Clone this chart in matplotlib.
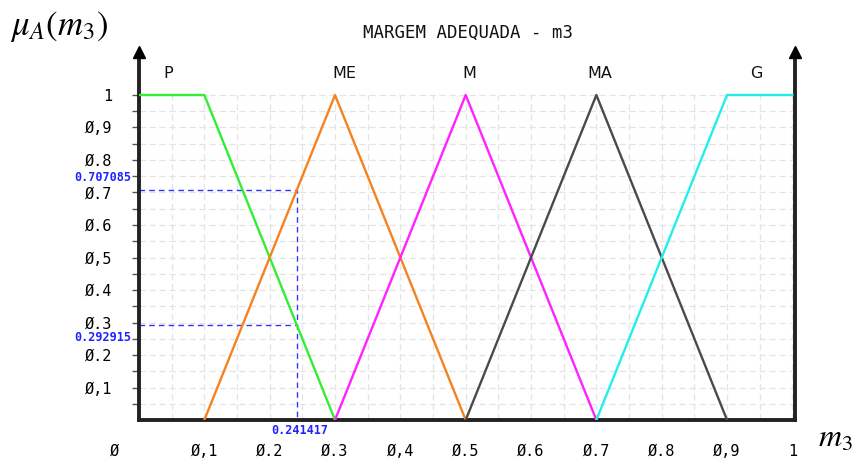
import numpy as np
import matplotlib
matplotlib.use("Agg")
import matplotlib.pyplot as plt
import matplotlib.transforms as mtransforms

plt.rcParams['mathtext.fontset'] = 'stix'

# membership functions (breakpoints)
sets = ['P', 'ME', 'M', 'MA', 'G']
set_x = [[0, 0.1, 0.3], [0.1, 0.3, 0.5], [0.3, 0.5, 0.7], [0.5, 0.7, 0.9], [0.7, 0.9, 1.0]]
set_y = [[1, 1, 0], [0, 1, 0], [0, 1, 0], [0, 1, 0], [0, 1, 1]]
set_colors = ['#33ee33', '#f58220', '#ff22ff', '#4a4a4a', '#22eeee']
label_x = [0.045, 0.315, 0.505, 0.705, 0.945]

x_input = 0.241417
mu_me = 0.707085
mu_p = 0.292915

xtick_vals = [0, 0.1, 0.2, 0.3, 0.4, 0.5, 0.6, 0.7, 0.8, 0.9, 1.0]
xtick_lbls = ['Ø', 'Ø,1', 'Ø.2', 'Ø.3', 'Ø,4', 'Ø.5', 'Ø.6', 'Ø.7', 'Ø.8', 'Ø,9', '1']
ytick_vals = [0.1, 0.2, 0.3, 0.4, 0.5, 0.6, 0.7, 0.8, 0.9, 1.0]
ytick_lbls = ['Ø,1', 'Ø.2', 'Ø.3', 'Ø.4', 'Ø,5', 'Ø.6', 'Ø.7', 'Ø.8', 'Ø,9', '1']

fig = plt.figure(figsize=(8.54, 4.63), dpi=100)
ax = fig.add_axes([139 / 854, 43 / 463, 656 / 854, 368 / 463])
xmax = 1.004
ymax = 368 / 325
ax.set_xlim(0, xmax)
ax.set_ylim(0, ymax)

# grid (only inside unit square)
g = np.arange(0.05, 1.0001, 0.05)
ax.hlines(g, 0, 1, colors='#e4e4e4', linestyles=(0, (5, 3)), lw=0.9, zorder=0)
ax.vlines(g, 0, 1, colors='#e4e4e4', linestyles=(0, (5, 3)), lw=0.9, zorder=0)

for name, xs, ys, c, lx in zip(sets, set_x, set_y, set_colors, label_x):
    ax.plot(xs, ys, color=c, lw=1.7, zorder=3)
    ax.text(lx, 1.065, name, ha='center', va='center', fontsize=11.5,
            family='DejaVu Sans', color='#111111')

# blue helper lines
blue_font = dict(fontsize=8.5, color='#2222ff', family='DejaVu Sans Mono', fontweight='bold')
ax.plot([0, x_input, x_input], [mu_me, mu_me, 0], color='#3333ff', lw=1, ls=(0, (4, 3)), zorder=2)
ax.plot([0, x_input], [mu_p, mu_p], color='#3333ff', lw=1, ls=(0, (4, 3)), zorder=2)
ax.text(-0.012, mu_me + 0.02, f'{mu_me:.6f}', ha='right', va='bottom', **blue_font)
ax.text(-0.012, mu_p - 0.02, f'{mu_p:.6f}', ha='right', va='top', **blue_font)
ax.text(x_input + 0.004, -0.012, f'{x_input:.6f}', ha='center', va='top', **blue_font)

# axes frame
ax.spines['top'].set_visible(False)
for s in ['left', 'right', 'bottom']:
    ax.spines[s].set_linewidth(2.8)
    ax.spines[s].set_color('#222222')
ax.plot([0, xmax], [ymax, ymax], ls='', marker='^', ms=9, color='black', clip_on=False, zorder=5)

ax.set_xticks(xtick_vals)
ax.set_xticklabels(xtick_lbls, fontsize=11, family='DejaVu Sans Mono')
ax.tick_params(axis='x', length=0, pad=17)
lbl0 = ax.get_xticklabels()[0]
lbl0.set_transform(lbl0.get_transform() + mtransforms.ScaledTranslation(-0.24, 0, fig.dpi_scale_trans))

ax.set_yticks(ytick_vals)
ax.set_yticklabels(ytick_lbls, fontsize=11, family='DejaVu Sans Mono')
ax.set_yticks(np.arange(0.05, 1.0001, 0.1), minor=True)
ax.tick_params(axis='y', which='both', length=5, width=1, color='#555555', pad=14)

fig.text(468 / 854, 1 - 33 / 463, 'MARGEM ADEQUADA - m3', ha='center', va='center',
         fontsize=12.5, family='DejaVu Sans Mono', color='#111111')
fig.text(10 / 854, 1 - 27 / 463, r'$\mu_A(m_3)$', ha='left', va='center', fontsize=25)
fig.text(818 / 854, 1 - 438 / 463, r'$m_3$', ha='left', va='center', fontsize=23)

fig.savefig('out.png', dpi=100)
